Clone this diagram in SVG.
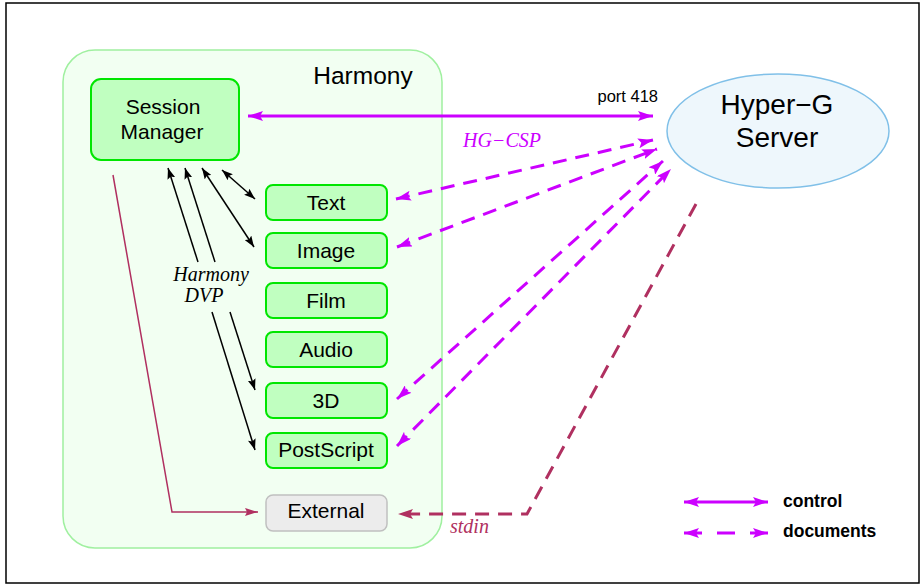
<svg xmlns="http://www.w3.org/2000/svg" width="922" height="586" viewBox="0 0 922 586">
<style>
.box{fill:#c0ffc0;stroke:#00e600;stroke-width:2}
.lbl{font-family:"Liberation Sans",Arial,sans-serif;font-size:21px;fill:#000;text-anchor:middle}
.it{font-family:"Liberation Serif","Times New Roman",serif;font-style:italic;font-size:20px}
.sans{font-family:"Liberation Sans",Arial,sans-serif}
.blk{stroke:#000;stroke-width:1.5;fill:none}
.ctl{stroke:#cc00ff;stroke-width:3;fill:none}
.doc{stroke:#cc00ff;stroke-width:3;fill:none;stroke-dasharray:14 9}
.red{stroke:#b03060;fill:none}
</style>
<defs>
<marker id="ab" markerUnits="userSpaceOnUse" markerWidth="12" markerHeight="8" refX="11" refY="4" orient="auto-start-reverse"><path d="M0,0 L11,4 L0,8 L2,4 z" fill="#000"/></marker>
<marker id="am" markerUnits="userSpaceOnUse" markerWidth="16" markerHeight="10" refX="15" refY="5" orient="auto-start-reverse"><path d="M0,0 L15,5 L0,10 L3,5 z" fill="#cc00ff"/></marker>
<marker id="ar" markerUnits="userSpaceOnUse" markerWidth="16" markerHeight="10" refX="15" refY="5" orient="auto"><path d="M0,0 L15,5 L0,10 L3,5 z" fill="#b03060"/></marker>
<marker id="ar2" markerUnits="userSpaceOnUse" markerWidth="14" markerHeight="8" refX="13" refY="4" orient="auto"><path d="M0,0 L13,4 L0,8 L2,4 z" fill="#b03060"/></marker>
</defs>
<rect x="6" y="3" width="913" height="580" fill="#fff" stroke="#000" stroke-width="1.5"/>
<g id="harmony">
<rect x="63" y="50" width="379" height="498" rx="32" fill="#f2fff2" stroke="#a0f0a0" stroke-width="1.5"/>
<text class="sans" x="363" y="84" font-size="24.5px" text-anchor="middle">Harmony</text>
</g>
<g id="session-manager">
<rect class="box" x="91" y="79" width="148" height="81" rx="10"/>
<text class="lbl" x="163" y="114" style="font-size:21px">Session</text>
<text class="lbl" x="162" y="139" style="font-size:21px">Manager</text>
</g>
<g id="text"><rect class="box" x="266" y="185" width="121" height="35" rx="7"/><text class="lbl" x="326" y="210">Text</text></g>
<g id="image"><rect class="box" x="266" y="233" width="121" height="35" rx="7"/><text class="lbl" x="326" y="258">Image</text></g>
<g id="film"><rect class="box" x="266" y="283" width="121" height="35" rx="7"/><text class="lbl" x="326" y="308">Film</text></g>
<g id="audio"><rect class="box" x="266" y="332" width="121" height="35" rx="7"/><text class="lbl" x="326" y="357">Audio</text></g>
<g id="3d"><rect class="box" x="266" y="383" width="121" height="35" rx="7"/><text class="lbl" x="326" y="408">3D</text></g>
<g id="postscript"><rect class="box" x="266" y="433" width="121" height="35" rx="7"/><text class="lbl" x="326" y="457">PostScript</text></g>
<g id="external"><rect x="266" y="495" width="121" height="36" rx="7" fill="#ececec" stroke="#c0c0c0" stroke-width="1.5"/><text class="lbl" x="326" y="518">External</text></g>
<g id="hyper-g">
<ellipse cx="778" cy="131" rx="111" ry="57" fill="#eef7fc" stroke="#80c0e8" stroke-width="1.5"/>
<text class="sans" x="777" y="114" font-size="28px" text-anchor="middle">Hyper−G</text>
<text class="sans" x="777" y="147" font-size="28px" text-anchor="middle">Server</text>
</g>
<g id="connectors">
<path class="ctl" d="M248,116 L653,116" marker-start="url(#am)" marker-end="url(#am)"/>
<text class="sans" x="658" y="102" font-size="16.5px" text-anchor="end">port 418</text>
<text class="it" x="463" y="147" fill="#cc00ff">HG−CSP</text>
<path class="doc" d="M396,199 L653,140" marker-start="url(#am)" marker-end="url(#am)"/>
<path class="doc" d="M397,247 L657,149" marker-start="url(#am)" marker-end="url(#am)"/>
<path class="doc" d="M397,399 L663,161" marker-start="url(#am)" marker-end="url(#am)"/>
<path class="doc" d="M397,446 L671,169" marker-start="url(#am)" marker-end="url(#am)"/>
<path class="red" stroke-width="3" stroke-dasharray="14 9" d="M696,204 L527,514 L398,514" marker-end="url(#ar)"/>
<text class="it" x="450" y="533" fill="#b03060">stdin</text>
<path class="red" stroke-width="1.5" d="M113,175 L172,512 L258,512" marker-end="url(#ar2)"/>
<path class="blk" d="M222,170 L255,199" marker-start="url(#ab)" marker-end="url(#ab)"/>
<path class="blk" d="M202,168 L254,247" marker-start="url(#ab)" marker-end="url(#ab)"/>
<path class="blk" d="M215,262 L185,168" marker-end="url(#ab)"/>
<path class="blk" d="M230,312 L255,390" marker-end="url(#ab)"/>
<path class="blk" d="M198,262 L168,168" marker-end="url(#ab)"/>
<path class="blk" d="M212,312 L255,450" marker-end="url(#ab)"/>
<text class="it" x="211" y="281" text-anchor="middle">Harmony</text>
<text class="it" x="204" y="302" text-anchor="middle">DVP</text>
</g>
<g id="legend">
<path class="ctl" d="M684,502 L768,502" marker-start="url(#am)" marker-end="url(#am)"/>
<text class="sans" x="783" y="507" font-size="17.5px" font-weight="bold">control</text>
<path class="ctl" d="M684,533 L768,533" stroke-dasharray="18 15" marker-start="url(#am)" marker-end="url(#am)"/>
<text class="sans" x="783" y="537" font-size="17.5px" font-weight="bold">documents</text>
</g>
</svg>
